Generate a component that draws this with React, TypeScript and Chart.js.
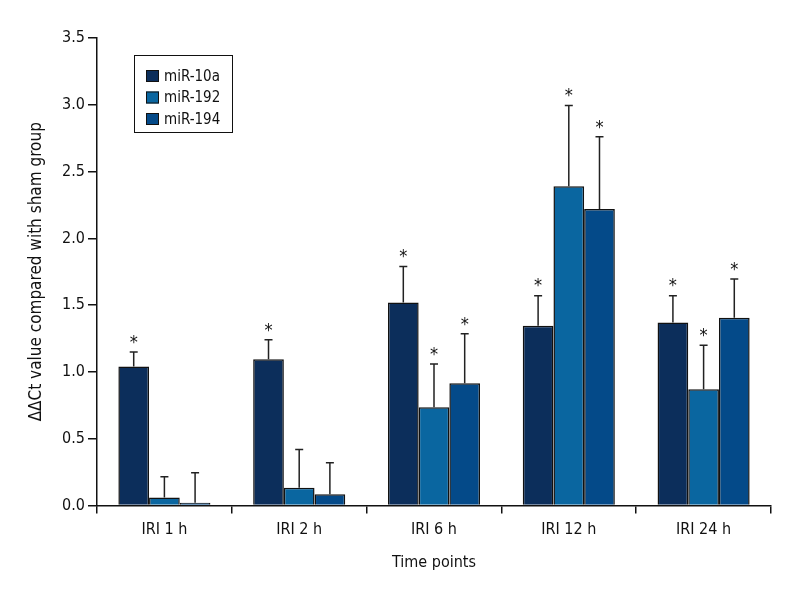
import React, { useEffect, useRef } from "react";
import { Chart, registerables } from "chart.js";

Chart.register(...registerables);

const categories = ["IRI 1 h", "IRI 2 h", "IRI 6 h", "IRI 12 h", "IRI 24 h"];
const seriesNames = ["miR-10a", "miR-192", "miR-194"];
const mir10a = [1.04, 1.095, 1.52, 1.345, 1.37];
const mir192 = [0.06, 0.133, 0.735, 2.39, 0.87];
const mir194 = [0.02, 0.084, 0.915, 2.22, 1.405];
const mir10aErr = [0.11, 0.145, 0.27, 0.225, 0.2];
const mir192Err = [0.155, 0.287, 0.325, 0.605, 0.33];
const mir194Err = [0.225, 0.236, 0.37, 0.54, 0.29];
const mir10aSig = [true, true, true, true, true];
const mir192Sig = [false, false, true, true, true];
const mir194Sig = [false, false, true, true, true];
const seriesColors = ["#0c2e5b", "#0a66a0", "#044a89"];
const yTicks = [0, 0.5, 1.0, 1.5, 2.0, 2.5, 3.0, 3.5];

const FONT = "'DejaVu Sans Condensed', 'Liberation Sans Narrow', 'Roboto Condensed', 'DejaVu Sans', sans-serif";

const errs = [mir10aErr, mir192Err, mir194Err];
const sigs = [mir10aSig, mir192Sig, mir194Sig];

const overlayPlugin = {
  id: "overlay",
  afterDatasetsDraw(chart: any) {
    const ctx = chart.ctx;
    const yScale = chart.scales.y;
    ctx.save();
    chart.data.datasets.forEach((ds: any, di: number) => {
      const meta = chart.getDatasetMeta(di);
      meta.data.forEach((bar: any, i: number) => {
        const v = ds.data[i];
        const top = yScale.getPixelForValue(v + errs[di][i]);
        const base = yScale.getPixelForValue(v);
        const x = bar.x;
        ctx.strokeStyle = "#222";
        ctx.lineWidth = 1.5;
        ctx.beginPath();
        ctx.moveTo(x, base);
        ctx.lineTo(x, top);
        ctx.moveTo(x - 4, top);
        ctx.lineTo(x + 4, top);
        ctx.stroke();
        if (sigs[di][i]) {
          ctx.fillStyle = "#111";
          ctx.font = "18px " + FONT;
          ctx.textAlign = "center";
          ctx.textBaseline = "middle";
          ctx.fillText("*", x, top - 9);
        }
      });
    });
    // legend
    const lx = 134, ly = 55, lw = 98, lh = 77;
    ctx.fillStyle = "#fff";
    ctx.fillRect(lx, ly, lw, lh);
    ctx.strokeStyle = "#111";
    ctx.lineWidth = 1;
    ctx.strokeRect(lx + 0.5, ly + 0.5, lw, lh);
    chart.data.datasets.forEach((ds: any, di: number) => {
      const cy = ly + 21 + di * 21.5;
      ctx.fillStyle = seriesColors[di];
      ctx.fillRect(146, cy - 6, 13, 12);
      ctx.strokeStyle = "#111";
      ctx.lineWidth = 1;
      ctx.strokeRect(146.5, cy - 5.5, 12, 11);
      ctx.fillStyle = "#111";
      ctx.font = "15px " + FONT;
      ctx.textAlign = "left";
      ctx.textBaseline = "middle";
      ctx.fillText(ds.label, 164, cy + 1);
    });
    ctx.restore();
  },
};

export default function App() {
  const ref = useRef<HTMLCanvasElement>(null);
  useEffect(() => {
    const data = [mir10a, mir192, mir194];
    const chart = new Chart(ref.current as HTMLCanvasElement, {
      type: "bar",
      data: {
        labels: categories,
        datasets: seriesNames.map((name, i) => ({
          label: name,
          data: data[i],
          backgroundColor: seriesColors[i],
          borderColor: "#111",
          borderWidth: 1.5,
          barPercentage: 1,
          categoryPercentage: 0.683,
        })),
      },
      options: {
        animation: false,
        responsive: false,
        maintainAspectRatio: false,
        layout: { padding: { top: 38, right: 29, left: 26, bottom: 28 } },
        plugins: { legend: { display: false }, tooltip: { enabled: false } },
        scales: {
          x: {
            grid: { display: true, drawOnChartArea: false, drawTicks: true, tickLength: 8, color: "#111", lineWidth: 1.5 },
            border: { display: true, color: "#111", width: 1.5 },
            ticks: { color: "#111", font: { family: FONT, size: 16 }, padding: 7 },
            title: { display: true, text: "Time points", color: "#111", font: { family: FONT, size: 16 }, padding: { top: 4, bottom: 0 } },
            afterFit: (s: any) => { s.height = 66.5; },
          },
          y: {
            min: 0,
            max: 3.5,
            afterBuildTicks: (s: any) => { s.ticks = yTicks.map((v) => ({ value: v })); },
            grid: { display: true, drawOnChartArea: false, drawTicks: true, tickLength: 9, color: "#111", lineWidth: 1.5 },
            border: { display: true, color: "#111", width: 1.5 },
            ticks: { color: "#111", font: { family: FONT, size: 16 }, padding: 3, callback: (v: any) => Number(v).toFixed(1) },
            title: { display: true, text: "ΔΔCt value compared with sham group", color: "#111", font: { family: FONT, size: 17 }, padding: { top: 0, bottom: 3 } },
            afterFit: (s: any) => { s.width = 71; },
          },
        },
      },
      plugins: [overlayPlugin],
    });
    return () => chart.destroy();
  }, []);
  return (
    <div style={{ position: "fixed", left: 0, top: 0, width: 800, height: 600, background: "#fff" }}>
      <canvas ref={ref} width={800} height={600} style={{ width: 800, height: 600 }} />
    </div>
  );
}
